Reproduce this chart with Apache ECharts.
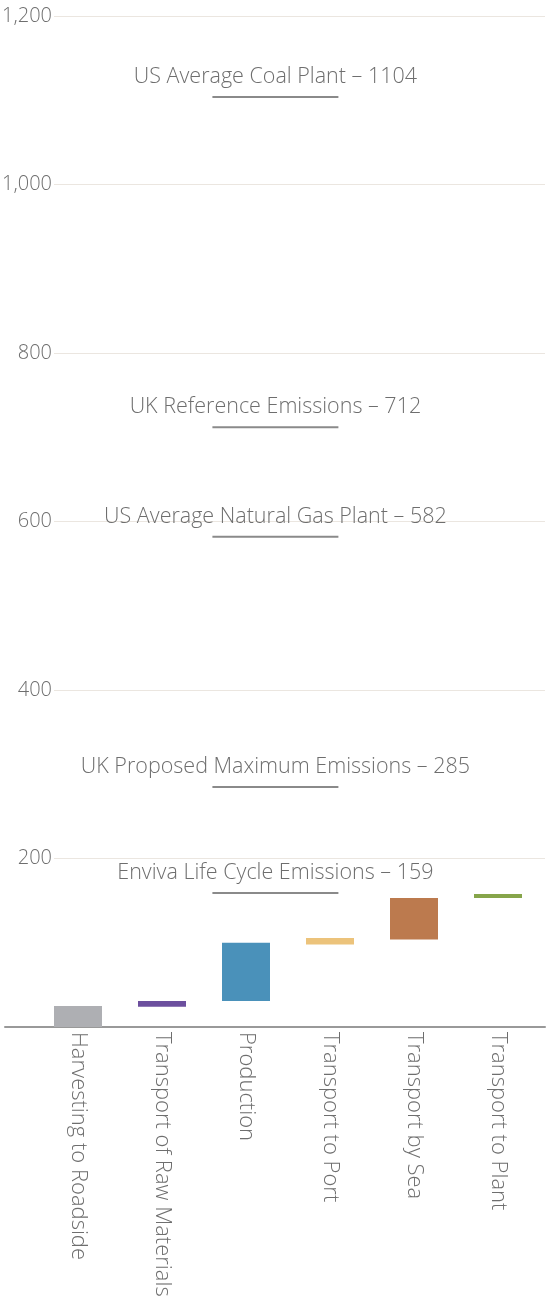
<!DOCTYPE html>
<html>
<head>
<meta charset="utf-8">
<style>
  html, body { margin: 0; padding: 0; background: #fff; }
  #chart { width: 547px; height: 1306px; }
</style>
<script src="https://cdn.jsdelivr.net/npm/echarts@6/dist/echarts.min.js"></script>
</head>
<body>
<div id="chart"></div>
<script>
// life cycle steps (waterfall)
const categories = [
    'Harvesting to Roadside',
    'Transport of Raw Materials',
    'Production',
    'Transport to Port',
    'Transport by Sea',
    'Transport to Plant'
];
const stepBase = [0, 24, 31, 98, 104, 153];
const stepHeight = [25, 7, 69, 7.5, 49, 5];

// reference emission levels
const refNames = [
    'US Average Coal Plant',
    'UK Reference Emissions',
    'US Average Natural Gas Plant',
    'UK Proposed Maximum Emissions',
    'Enviva Life Cycle Emissions'
];
const refValues = [1104, 712, 582, 285, 159];

const yTicks = [0, 200, 400, 600, 800, 1000, 1200];

const stepColors = ['#aeafb3', '#6c4f9e', '#4a91ba', '#ecc37b', '#bc7a4e', '#86a54a'];
const textColor = '#6e6e6e';
const font = "'Open Sans', sans-serif";

const gridTop = 16;
const gridBottom = 279;

const chart = echarts.init(document.getElementById('chart'));

chart.setOption({
    animation: false,
    grid: [
        {left: 36, right: 7, top: gridTop, bottom: gridBottom, outerBoundsMode: 'none', containLabel: false},
        {left: 54, right: 2, top: gridTop, bottom: gridBottom, outerBoundsMode: 'none', containLabel: false},
        {left: 5, right: 2, top: gridTop, bottom: gridBottom, outerBoundsMode: 'none', containLabel: false}
    ],
    xAxis: [
        {
            type: 'category',
            gridIndex: 0,
            data: categories,
            axisLine: {show: false},
            axisTick: {show: false},
            axisLabel: {
                rotate: -90,
                margin: 5,
                color: textColor,
                fontFamily: font,
                fontWeight: 300,
                fontSize: 22
            }
        },
        // hidden helper axis for the reference markers
        {type: 'value', gridIndex: 0, min: 0, max: 6, show: false},
        {type: 'value', gridIndex: 1, min: 0, max: 1, show: false},
        {
            type: 'value',
            gridIndex: 2,
            min: 0,
            max: 1,
            axisLine: {show: true, lineStyle: {color: '#999', width: 2}},
            axisTick: {show: false},
            axisLabel: {show: false},
            splitLine: {show: false}
        }
    ],
    yAxis: [
        {type: 'value', gridIndex: 0, min: 0, max: 1200, show: false},
        {
            type: 'value',
            gridIndex: 1,
            min: yTicks[0],
            max: yTicks[yTicks.length - 1],
            interval: 200,
            axisLine: {show: false},
            axisTick: {show: false},
            splitLine: {lineStyle: {color: '#ebe6e0', width: 1}},
            axisLabel: {
                margin: 2,
                color: textColor,
                fontFamily: font,
                fontWeight: 300,
                fontSize: 20,
                formatter: v => (v === 0 ? '' : v.toLocaleString('en-US'))
            }
        },
        {type: 'value', gridIndex: 2, min: 0, max: 1200, show: false}
    ],
    series: [
        {
            type: 'bar',
            xAxisIndex: 0,
            yAxisIndex: 0,
            stack: 'steps',
            barWidth: 48,
            itemStyle: {color: 'transparent'},
            data: stepBase
        },
        {
            type: 'bar',
            xAxisIndex: 0,
            yAxisIndex: 0,
            stack: 'steps',
            barWidth: 48,
            data: stepHeight.map((v, i) => ({value: v, itemStyle: {color: stepColors[i]}}))
        },
        {
            type: 'custom',
            xAxisIndex: 1,
            yAxisIndex: 0,
            data: refValues.map(v => [3, v]),
            renderItem(params, api) {
                const v = api.value(1);
                const p0 = api.coord([2.1, v]);
                const p1 = api.coord([3.6, v]);
                const label = refNames[params.dataIndex] + ' \u2013 ' + refValues[params.dataIndex];
                return {
                    type: 'group',
                    children: [
                        {
                            type: 'line',
                            shape: {x1: p0[0], y1: p0[1], x2: p1[0], y2: p1[1]},
                            style: {stroke: '#8a8a8a', lineWidth: 2}
                        },
                        {
                            type: 'text',
                            style: {
                                text: label,
                                x: (p0[0] + p1[0]) / 2,
                                y: p0[1] - 20,
                                align: 'center',
                                verticalAlign: 'middle',
                                fill: textColor,
                                fontFamily: font,
                                fontWeight: 300,
                                fontSize: 21.5
                            }
                        }
                    ]
                };
            }
        }
    ]
});
</script>
</body>
</html>
